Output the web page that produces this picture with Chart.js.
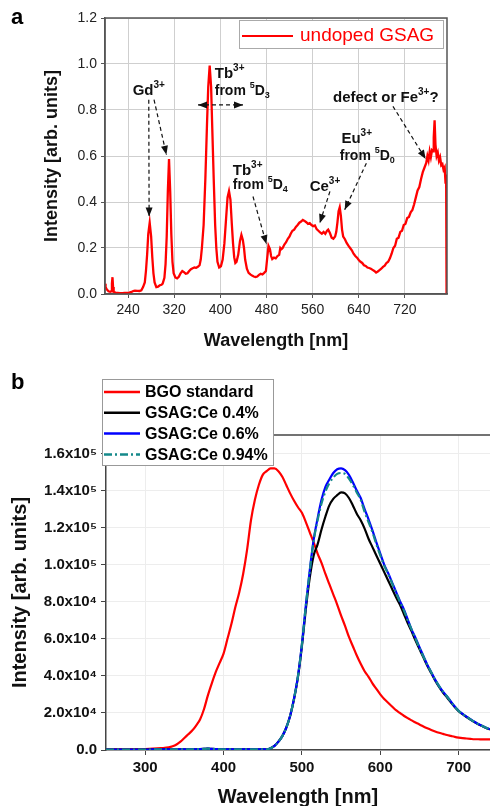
<!DOCTYPE html>
<html>
<head>
<meta charset="utf-8">
<script src="https://cdn.jsdelivr.net/npm/chart.js@4.4.0/dist/chart.umd.min.js"></script>
<style>
  html, body { margin: 0; padding: 0; background: #fff; width: 490px; height: 806px; overflow: hidden; }
  #boxA { position: absolute; left: 0; top: 0; width: 490px; height: 360px; }
  #boxB { position: absolute; left: 0; top: 360px; width: 490px; height: 460px; }
  .tag { position: absolute; font: bold 22px "Liberation Sans", Arial, sans-serif; line-height: 22px; color: #000; }
</style>
</head>
<body>
<div id="boxA"><canvas id="chartA"></canvas></div>
<div id="boxB"><canvas id="chartB"></canvas></div>
<div class="tag" style="left:11px;top:6px">a</div>
<div class="tag" style="left:11px;top:371px">b</div>
<script>
// panel a: undoped GSAG spectrum
const wlA = [
  200, 201, 203, 206, 209, 211, 212, 213, 214, 215,
  218, 222, 226, 230, 234, 238, 242, 246, 249, 252,
  256, 260, 263, 266, 269, 271, 273, 275, 277.5, 280,
  282, 284, 286, 289, 292, 295, 298, 300, 303, 305,
  307, 309, 311, 313, 315, 317, 319, 322, 325, 328,
  331, 334, 337, 340, 343, 346, 349, 352, 355, 358,
  361, 364, 366, 368, 371, 374, 377, 379, 381.5, 384,
  386, 388.5, 391, 393, 395, 398, 401, 404, 407, 410,
  412.5, 415, 417.5, 420, 422, 424, 426, 428, 431, 434,
  436.5, 439, 441, 443, 446, 449, 452, 455, 458, 461,
  464, 467, 470, 473, 476, 479, 481, 483.5, 486, 488,
  490, 493, 496, 499, 502, 504, 506, 508, 511, 514,
  517, 520, 522, 525, 528, 531, 534, 537, 540, 543,
  546, 549, 552, 555, 558, 561, 564, 567, 570, 573,
  576, 579, 582, 585, 587, 590, 593, 596, 599, 601,
  603, 605, 607, 609, 611, 613, 616, 619, 622, 625,
  628, 631, 634, 637, 640, 643, 646, 649, 652, 655,
  658, 661, 664, 667, 670, 673, 676, 679, 682, 685,
  688, 691, 694, 697, 700, 703, 706, 709, 712, 715,
  718, 721, 724, 727, 730, 733, 736, 739, 742, 745,
  748, 751, 754, 757, 759, 761, 763, 765, 767, 769,
  770, 771.5, 773, 775, 777, 779, 781, 783, 785, 787,
  789, 790.5, 791.5, 792, 792.5
];
const undopedA = [
  0.045, 0.03, 0.02, 0.012, 0.01, 0.012, 0.045, 0.073, 0.03, 0.01,
  0.006, 0.005, 0.004, 0.004, 0.005, 0.005, 0.006, 0.009, 0.013, 0.015,
  0.014, 0.013, 0.016, 0.03, 0.05, 0.1, 0.17, 0.26, 0.31, 0.25,
  0.16, 0.09, 0.05, 0.03, 0.032, 0.038, 0.04, 0.045, 0.07, 0.13,
  0.25, 0.45, 0.587, 0.45, 0.26, 0.14, 0.09, 0.072, 0.068, 0.075,
  0.09, 0.1, 0.095, 0.088, 0.09, 0.1, 0.108, 0.112, 0.115, 0.114,
  0.118, 0.125, 0.15, 0.2, 0.3, 0.5, 0.75, 0.9, 0.993, 0.9,
  0.72, 0.5, 0.3, 0.2, 0.14, 0.115, 0.12, 0.15, 0.22, 0.33,
  0.42, 0.447, 0.41, 0.3, 0.22, 0.16, 0.135, 0.14, 0.17, 0.23,
  0.257, 0.235, 0.2, 0.15, 0.11, 0.092, 0.085, 0.08, 0.076, 0.074,
  0.076, 0.083, 0.088, 0.085, 0.092, 0.1, 0.15, 0.209, 0.195, 0.165,
  0.152, 0.158, 0.155, 0.165, 0.17, 0.2, 0.195, 0.2, 0.215, 0.225,
  0.24, 0.25, 0.262, 0.275, 0.28, 0.292, 0.3, 0.31, 0.315, 0.322,
  0.318, 0.312, 0.305, 0.308, 0.3, 0.295, 0.298, 0.282, 0.275, 0.268,
  0.262, 0.27, 0.262, 0.275, 0.28, 0.265, 0.245, 0.24, 0.25, 0.27,
  0.31, 0.36, 0.377, 0.34, 0.28, 0.25, 0.238, 0.222, 0.21, 0.2,
  0.19, 0.175, 0.165, 0.158, 0.148, 0.14, 0.135, 0.125, 0.122, 0.115,
  0.113, 0.11, 0.105, 0.1, 0.093, 0.098, 0.104, 0.11, 0.118, 0.123,
  0.135, 0.14, 0.155, 0.175, 0.2, 0.21, 0.24, 0.245, 0.27, 0.275,
  0.3, 0.305, 0.33, 0.335, 0.355, 0.365, 0.39, 0.42, 0.45, 0.465,
  0.5, 0.53, 0.55, 0.57, 0.6, 0.58, 0.62, 0.595, 0.625, 0.62,
  0.68, 0.755, 0.65, 0.6, 0.615, 0.58, 0.595, 0.56, 0.565, 0.54,
  0.55, 0.48, 0.52, 0.2, 0
];
const xTicksA = [240, 320, 400, 480, 560, 640, 720];
const yTicksA = [0, 0.2, 0.4, 0.6, 0.8, 1.0, 1.2];

// panel b: intensities in units of 1e4
const wlB = [
  250, 260, 270, 280, 290, 300, 310, 320, 330, 335,
  340, 345, 350, 355, 360, 365, 370, 375, 380, 385,
  390, 395, 400, 405, 410, 415, 420, 425, 430, 435,
  440, 445, 450, 455, 460, 465, 470, 475, 480, 485,
  490, 495, 500, 505, 510, 515, 520, 525, 530, 535,
  540, 545, 550, 555, 560, 565, 570, 575, 580, 585,
  590, 595, 600, 605, 610, 615, 620, 625, 630, 635,
  640, 645, 650, 655, 660, 665, 670, 675, 680, 685,
  690, 695, 700, 705, 710, 715, 720, 725, 730, 735,
  740
];
const bgoE4 = [
  0.03, 0.03, 0.03, 0.04, 0.04, 0.05, 0.07, 0.1, 0.14, 0.2,
  0.3, 0.45, 0.65, 0.85, 1.05, 1.32, 1.65, 2.2, 2.95, 3.6,
  4.2, 4.7, 5.2, 6.0, 6.8, 7.7, 8.5, 9.5, 10.8, 12.4,
  13.5, 14.3, 14.85, 15.05, 15.2, 15.2, 15.05, 14.75, 14.3, 13.85,
  13.45, 13.1, 12.8, 12.3, 11.75, 11.2, 10.6, 10.1, 9.5, 8.95,
  8.4, 7.85, 7.25, 6.7, 6.1, 5.6, 5.1, 4.65, 4.25, 3.95,
  3.6, 3.3, 3.0, 2.75, 2.55, 2.35, 2.15, 2.0, 1.85, 1.72,
  1.6, 1.48, 1.38, 1.27, 1.17, 1.08, 1.0, 0.93, 0.87, 0.81,
  0.76, 0.71, 0.67, 0.64, 0.62, 0.6, 0.58, 0.58, 0.57, 0.57,
  0.57
];
const ce04E4 = [
  0.02, 0.02, 0.02, 0.02, 0.02, 0.02, 0.03, 0.03, 0.03, 0.03,
  0.03, 0.03, 0.03, 0.03, 0.04, 0.04, 0.05, 0.06, 0.07, 0.06,
  0.05, 0.04, 0.04, 0.03, 0.03, 0.03, 0.03, 0.03, 0.03, 0.03,
  0.03, 0.03, 0.03, 0.04, 0.1, 0.22, 0.45, 0.75, 1.2, 1.85,
  2.75, 3.95, 5.6, 7.6, 9.3, 10.5, 11.1, 11.9, 12.6, 13.2,
  13.55, 13.75, 13.9, 13.85, 13.6, 13.2, 12.75, 12.4, 11.95, 11.4,
  10.95, 10.5, 10.05, 9.6, 9.15, 8.7, 8.25, 7.85, 7.35, 6.85,
  6.4, 5.9, 5.45, 5.0, 4.55, 4.15, 3.75, 3.4, 3.1, 2.85,
  2.58, 2.32, 2.1, 1.93, 1.78, 1.64, 1.51, 1.39, 1.29, 1.19,
  1.11
];
const ce06E4 = [
  0.02, 0.02, 0.02, 0.02, 0.02, 0.02, 0.03, 0.03, 0.03, 0.03,
  0.03, 0.03, 0.03, 0.03, 0.04, 0.04, 0.05, 0.06, 0.07, 0.06,
  0.05, 0.04, 0.04, 0.03, 0.03, 0.03, 0.03, 0.03, 0.03, 0.03,
  0.03, 0.03, 0.03, 0.04, 0.1, 0.22, 0.45, 0.75, 1.2, 1.85,
  2.8, 4.0, 5.7, 7.8, 9.7, 11.35, 12.5, 13.5, 14.2, 14.6,
  14.95, 15.15, 15.2, 15.1, 14.85, 14.45, 14.0, 13.6, 13.0, 12.45,
  11.85, 11.2, 10.6, 10.0, 9.55, 9.05, 8.55, 8.05, 7.6, 7.05,
  6.5, 6.05, 5.55, 5.08, 4.6, 4.2, 3.8, 3.45, 3.15, 2.9,
  2.62, 2.35, 2.12, 1.95, 1.8, 1.66, 1.53, 1.4, 1.3, 1.2,
  1.12
];
const ce094E4 = [
  0.02, 0.02, 0.02, 0.02, 0.02, 0.02, 0.03, 0.03, 0.03, 0.03,
  0.03, 0.03, 0.03, 0.03, 0.04, 0.04, 0.05, 0.06, 0.07, 0.06,
  0.05, 0.04, 0.04, 0.03, 0.03, 0.03, 0.03, 0.03, 0.03, 0.03,
  0.03, 0.03, 0.03, 0.04, 0.1, 0.22, 0.45, 0.75, 1.2, 1.85,
  2.8, 4.0, 5.7, 7.8, 9.65, 11.3, 12.4, 13.3, 13.95, 14.4,
  14.7, 14.9, 14.95, 14.9, 14.65, 14.3, 13.9, 13.5, 12.85, 12.3,
  11.75, 11.1, 10.5, 9.95, 9.5, 9.0, 8.5, 8.0, 7.55, 7.0,
  6.5, 6.0, 5.5, 5.05, 4.6, 4.2, 3.8, 3.45, 3.15, 2.9,
  2.6, 2.34, 2.11, 1.94, 1.79, 1.65, 1.52, 1.4, 1.3, 1.2,
  1.12
];
const xTicksB = [300, 400, 500, 600, 700];
const yTicksB = [0, 2, 4, 6, 8, 10, 12, 14, 16];

// annotation texts and arrows of panel a, in data units
const notesA = [
  { x: 248, y: 0.864, parts: [['Gd', 15], ['3+', 10, 'sup']] },
  { x: 390.3, y: 0.939, parts: [['Tb', 15], ['3+', 10, 'sup']] },
  { x: 390.3, y: 0.867, parts: [['from ', 14], ['5', 9, 'sup'], ['D', 14], ['3', 9, 'sub']] },
  { x: 421.5, y: 0.516, parts: [['Tb', 15], ['3+', 10, 'sup']] },
  { x: 421.5, y: 0.457, parts: [['from ', 14], ['5', 9, 'sup'], ['D', 14], ['4', 9, 'sub']] },
  { x: 554.9, y: 0.446, parts: [['Ce', 15], ['3+', 10, 'sup']] },
  { x: 609.9, y: 0.655, parts: [['Eu', 15], ['3+', 10, 'sup']] },
  { x: 607, y: 0.581, parts: [['from ', 14], ['5', 9, 'sup'], ['D', 14], ['0', 9, 'sub']] },
  { x: 595.3, y: 0.836, parts: [['defect or Fe', 15], ['3+', 10, 'sup'], ['?', 15]] }
];
const arrowsA = [
  { from: [275.9, 0.845], to: [276.5, 0.337] },
  { from: [285, 0.845], to: [306.5, 0.605] },
  { from: [361.3, 0.822], to: [439.3, 0.822], both: true },
  { from: [456.6, 0.424], to: [479.9, 0.217] },
  { from: [590, 0.446], to: [572.4, 0.308] },
  { from: [653.2, 0.569], to: [615.6, 0.366] },
  { from: [699.3, 0.816], to: [756, 0.587] }
];

const family = '"Liberation Sans", Arial, sans-serif';
Chart.defaults.font.family = family;

function head(ctx, x0, y0, x1, y1) {
    const a = Math.atan2(y1 - y0, x1 - x0);
    const len = 9, half = 3.5;
    ctx.beginPath();
    ctx.moveTo(x1, y1);
    ctx.lineTo(x1 - len * Math.cos(a) + half * Math.sin(a), y1 - len * Math.sin(a) - half * Math.cos(a));
    ctx.lineTo(x1 - len * Math.cos(a) - half * Math.sin(a), y1 - len * Math.sin(a) + half * Math.cos(a));
    ctx.closePath();
    ctx.fill();
}

function richText(ctx, x, y, parts) {
    let cx = x;
    parts.forEach(([t, size, kind]) => {
        ctx.font = `bold ${size}px ${family}`;
        const dy = kind === 'sup' ? -7 : kind === 'sub' ? 3 : 0;
        ctx.fillText(t, cx, y + dy);
        cx += ctx.measureText(t).width;
    });
}

const panelA = {
    id: 'panelA',
    afterDraw(chart) {
        const {ctx, chartArea: ca, scales: {x, y}} = chart;
        ctx.save();
        ctx.strokeStyle = '#555';
        ctx.lineWidth = 1.5;
        ctx.strokeRect(ca.left, ca.top, ca.right - ca.left, ca.bottom - ca.top);

        // legend
        const ds = chart.data.datasets[0];
        const bx = ca.right - 208, by = ca.top + 2;
        ctx.fillStyle = '#fff';
        ctx.fillRect(bx, by, 204, 28);
        ctx.strokeStyle = '#aaa';
        ctx.lineWidth = 1;
        ctx.strokeRect(bx + 0.5, by + 0.5, 204, 28);
        ctx.strokeStyle = ds.borderColor;
        ctx.lineWidth = 2;
        ctx.beginPath();
        ctx.moveTo(bx + 3, by + 16);
        ctx.lineTo(bx + 54, by + 16);
        ctx.stroke();
        ctx.fillStyle = ds.borderColor;
        ctx.font = `19px ${family}`;
        ctx.textBaseline = 'middle';
        ctx.fillText(ds.label, bx + 61, by + 16);

        // annotations
        ctx.fillStyle = '#111';
        ctx.textBaseline = 'alphabetic';
        notesA.forEach(n => richText(ctx, x.getPixelForValue(n.x), y.getPixelForValue(n.y), n.parts));

        ctx.strokeStyle = '#111';
        ctx.lineWidth = 1.2;
        arrowsA.forEach(a => {
            const x0 = x.getPixelForValue(a.from[0]), y0 = y.getPixelForValue(a.from[1]);
            const x1 = x.getPixelForValue(a.to[0]), y1 = y.getPixelForValue(a.to[1]);
            ctx.setLineDash([4, 3]);
            ctx.beginPath();
            ctx.moveTo(x0, y0);
            ctx.lineTo(x1, y1);
            ctx.stroke();
            ctx.setLineDash([]);
            head(ctx, x0, y0, x1, y1);
            if (a.both) head(ctx, x1, y1, x0, y0);
        });
        ctx.restore();
    }
};

const legendB = {
    id: 'legendB',
    afterDraw(chart) {
        const {ctx, chartArea: ca} = chart;
        ctx.save();
        ctx.strokeStyle = '#444';
        ctx.lineWidth = 1.5;
        ctx.beginPath();
        ctx.moveTo(ca.left, ca.top);
        ctx.lineTo(ca.right, ca.top);
        ctx.stroke();

        const bx = ca.left - 4, by = ca.top - 56;
        ctx.fillStyle = '#fff';
        ctx.fillRect(bx, by, 171, 86);
        ctx.strokeStyle = '#999';
        ctx.lineWidth = 1;
        ctx.strokeRect(bx + 0.5, by + 0.5, 171, 86);
        ctx.font = `bold 16px ${family}`;
        ctx.textBaseline = 'middle';
        chart.data.datasets.forEach((ds, i) => {
            const ly = by + 13 + i * 20.8;
            ctx.strokeStyle = ds.borderColor;
            ctx.lineWidth = 2.5;
            ctx.setLineDash(ds.borderDash || []);
            ctx.beginPath();
            ctx.moveTo(bx + 2, ly);
            ctx.lineTo(bx + 38, ly);
            ctx.stroke();
            ctx.setLineDash([]);
            ctx.fillStyle = '#000';
            ctx.fillText(ds.label, bx + 43, ly + 1);
        });
        ctx.restore();
    }
};

const pts = (xs, ys) => xs.map((v, i) => ({x: v, y: ys[i]}));

new Chart(document.getElementById('chartA'), {
    type: 'line',
    data: {
        datasets: [{
            label: 'undoped GSAG',
            data: pts(wlA, undopedA),
            borderColor: '#ff0000',
            borderWidth: 2.3,
            pointRadius: 0,
            tension: 0
        }]
    },
    options: {
        animation: false,
        responsive: true,
        maintainAspectRatio: false,
        layout: {padding: {top: 18, right: 43, left: 0, bottom: 0}},
        plugins: {legend: {display: false}, tooltip: {enabled: false}},
        scales: {
            x: {
                type: 'linear', min: 200, max: 793,
                afterBuildTicks: s => { s.ticks = xTicksA.map(v => ({value: v})); },
                afterFit: s => { s.height = 66; },
                grid: {color: '#cfcfcf', tickColor: '#555', tickLength: 4},
                border: {color: '#555', width: 1.5},
                ticks: {color: '#222', font: {size: 14}, padding: 4, maxRotation: 0, autoSkip: false},
                title: {display: true, text: 'Wavelength [nm]', color: '#111',
                    font: {size: 18, weight: 'bold'}, padding: {top: 0, bottom: 8}}
            },
            y: {
                min: 0, max: 1.2,
                afterBuildTicks: s => { s.ticks = yTicksA.map(v => ({value: v})); },
                afterFit: s => { s.width = 105; },
                grid: {color: '#cfcfcf', tickColor: '#555', tickLength: 4},
                border: {color: '#555', width: 1.5},
                ticks: {color: '#222', font: {size: 14}, padding: 4, callback: v => v.toFixed(1)},
                title: {display: true, text: 'Intensity [arb. units]', color: '#111',
                    font: {size: 18, weight: 'bold'}, padding: {top: 41, bottom: 0}}
            }
        }
    },
    plugins: [panelA]
});

const lineB = (label, ys, color, extra) => Object.assign({
    label, data: pts(wlB, ys), borderColor: color, borderWidth: 2.2,
    pointRadius: 0, cubicInterpolationMode: 'monotone'
}, extra || {});

new Chart(document.getElementById('chartB'), {
    type: 'line',
    data: {
        datasets: [
            lineB('BGO standard', bgoE4, '#ff0000', {order: 3}),
            lineB('GSAG:Ce 0.4%', ce04E4, '#000000', {order: 2}),
            lineB('GSAG:Ce 0.6%', ce06E4, '#0000ff', {order: 1}),
            lineB('GSAG:Ce 0.94%', ce094E4, '#15898a', {order: 0, borderDash: [8, 3, 2, 3]})
        ]
    },
    options: {
        animation: false,
        responsive: true,
        maintainAspectRatio: false,
        layout: {padding: {top: 75, right: 0, left: 0, bottom: 0}},
        plugins: {legend: {display: false}, tooltip: {enabled: false}},
        scales: {
            x: {
                type: 'linear', min: 250, max: 740,
                afterBuildTicks: s => { s.ticks = xTicksB.map(v => ({value: v})); },
                afterFit: s => { s.height = 70; },
                grid: {color: '#ededed', tickColor: '#444', tickLength: 5},
                border: {color: '#444', width: 1.5},
                ticks: {color: '#111', font: {size: 15, weight: 'bold'}, padding: 4, maxRotation: 0, autoSkip: false},
                title: {display: true, text: 'Wavelength [nm]', color: '#111',
                    font: {size: 20, weight: 'bold'}, padding: {top: 0, bottom: 11}}
            },
            y: {
                min: 0, max: 17,
                afterBuildTicks: s => { s.ticks = yTicksB.map(v => ({value: v})); },
                afterFit: s => { s.width = 106; },
                grid: {color: '#ededed', tickColor: '#444', tickLength: 5},
                border: {color: '#444', width: 1.5},
                ticks: {
                    color: '#111', font: {size: 15, weight: 'bold'}, padding: 4, autoSkip: false,
                    callback: v => v === 0 ? '0.0' : v >= 10 ? (v / 10).toFixed(1) + 'x10⁵' : v.toFixed(1) + 'x10⁴'
                },
                title: {display: true, text: 'Intensity [arb. units]', color: '#111',
                    font: {size: 20, weight: 'bold'}, padding: {top: 8, bottom: 0}}
            }
        }
    },
    plugins: [legendB]
});
</script>
</body>
</html>
